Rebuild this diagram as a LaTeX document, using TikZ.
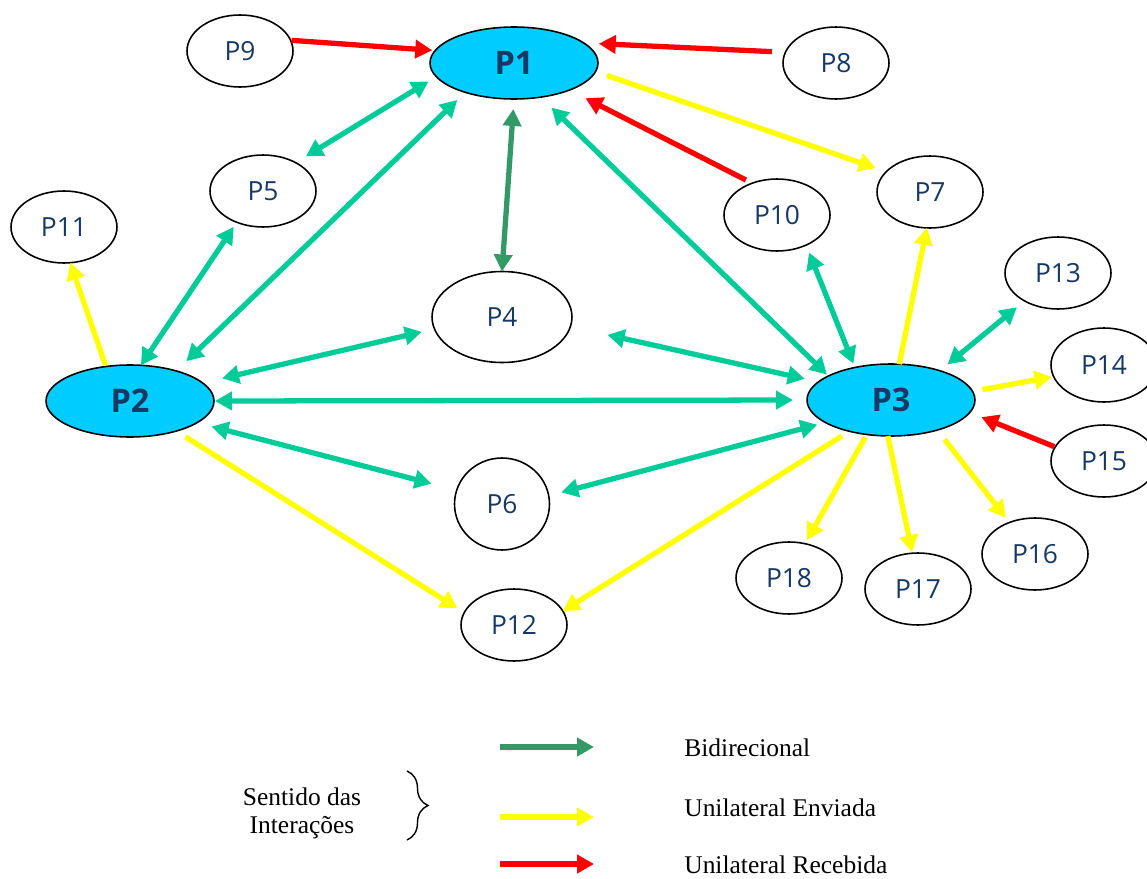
\documentclass[tikz,border=0pt]{standalone}
\usepackage{fontspec}
\usetikzlibrary{shapes.geometric,arrows.meta,decorations.pathreplacing}
\newfontfamily\pfont{Open Sans}
\newfontfamily\lfont{Liberation Serif}
\definecolor{hubcyan}{RGB}{0,204,255}
\definecolor{ptext}{RGB}{22,56,100}
\definecolor{bidigreen}{RGB}{51,153,102}
\definecolor{linkteal}{RGB}{0,204,153}
\definecolor{sentyellow}{RGB}{255,255,0}
\definecolor{recvred}{RGB}{255,0,0}
\begin{document}
\begin{tikzpicture}[x=0.02cm,y=-0.02cm,>={Triangle[length=0.34cm,width=0.36cm]},
    pnode/.style={ellipse,draw,line width=0.9pt,minimum width=2.12cm,minimum height=1.44cm,
      inner sep=0pt,outer sep=0pt,text=ptext,font=\pfont\fontsize{15}{18}\selectfont},
    hub/.style={pnode,fill=hubcyan,minimum width=3.36cm,font=\pfont\bfseries\fontsize{18.5}{22}\selectfont},
    link/.style={line width=3pt},
    both/.style={link,<->,linkteal},
    sent/.style={link,->,sentyellow},
    recv/.style={link,->,recvred},
    legtext/.style={font=\lfont\fontsize{14.5}{16}\selectfont,inner sep=0pt}]
  \useasboundingbox (0,0) rectangle (1147,879);

  \node[hub] (P1) at (514,63) {P1};
  \node[hub] (P2) at (130,401) {P2};
  \node[hub] (P3) at (891,400) {P3};
  \node[pnode,minimum width=2.8cm,minimum height=1.82cm] (P4) at (502,317) {P4};
  \node[pnode] (P5) at (263,191) {P5};
  \node[pnode,minimum width=1.9cm,minimum height=1.84cm] (P6) at (502,504) {P6};
  \node[pnode] (P7) at (930,192) {P7};
  \node[pnode] (P8) at (836,63) {P8};
  \node[pnode] (P9) at (240,51) {P9};
  \node[pnode] (P10) at (777,215) {P10};
  \node[pnode] (P11) at (64,227) {P11};
  \node[pnode] (P12) at (514,625) {P12};
  \node[pnode] (P13) at (1058,273) {P13};
  \node[pnode,minimum height=1.48cm] (P14) at (1104,365) {P14};
  \node[pnode] (P15) at (1104,461) {P15};
  \node[pnode] (P16) at (1035,554) {P16};
  \node[pnode] (P17) at (918,589) {P17};
  \node[pnode] (P18) at (789,578) {P18};

  \draw[recv,shorten <=0.02cm,shorten >=0.06cm] (P9.12) -- (P1.171);
  \draw[recv,shorten <=0.27cm,shorten >=0.3cm] (P8.168) -- (P1.16);
  \draw[sent,shorten <=0.24cm,shorten >=0.22cm] (P1.-6) -- (P7.155);
  \draw[recv,shorten <=0.14cm,shorten >=0.36cm] (P10.128) -- (P1.-26);
  \draw[both,shorten <=0.18cm,shorten >=0.24cm] (P1.190) -- (P5.41);
  \draw[both,shorten <=0.22cm,shorten >=0.28cm] (P1.211) -- (P2.33);
  \draw[link,<->,bidigreen,shorten <=0.2cm] (P1.south) -- (P4.north);
  \draw[both,shorten <=0.3cm,shorten >=0.04cm] (P1.-52) -- (P3.159);
  \draw[both,shorten <=0.16cm,shorten >=0.08cm] (P10.-46) -- (P3.138);
  \draw[sent] (P3.77) -- (P7.-95);
  \draw[both,shorten <=0.2cm,shorten >=0.2cm] (P3.31) -- (P13.220);
  \draw[sent,shorten <=0.2cm,shorten >=0.04cm] (P3.6) -- (P14.193);
  \draw[recv,shorten <=0.02cm,shorten >=0.25cm] (P15.164) -- (P3.-9);
  \draw[sent,shorten <=0.24cm,shorten >=0.12cm] (P3.-33) -- (P16.129);
  \draw[sent,shorten >=0.02cm] (P3.-95) -- (P17.99);
  \draw[sent,shorten <=0.06cm,shorten >=0.08cm] (P3.-125) -- (P18.65);
  \draw[sent,shorten <=0.18cm] (P3.-143) -- (P12.16);
  \draw[both,shorten <=0.17cm,shorten >=0.26cm] (P3.199) -- (P6.10);
  \draw[both,shorten <=0.02cm,shorten >=0.28cm] (P2.east) -- (P3.west);
  \draw[both,shorten <=0.76cm,shorten >=0.28cm] (P4.-8) -- (P3.166);
  \draw[both,shorten <=0.4cm,shorten >=0.26cm] (P2.14) -- (P4.190);
  \draw[both,shorten <=0.3cm,shorten >=0.52cm] (P2.-18) -- (P6.163);
  \draw[sent,shorten <=0.22cm,shorten >=0.16cm] (P2.-33) -- (P12.166);
  \draw[sent,shorten <=0.03cm] (P2.125) -- (P11.-80);
  \draw[both,shorten >=0.11cm] (P2.73) -- (P5.-130);

  \coordinate (g1) at (500,747);
  \coordinate (g2) at (594,747);
  \coordinate (y1) at (500,817);
  \coordinate (y2) at (594,817);
  \coordinate (r1) at (500,864);
  \coordinate (r2) at (594,864);
  \draw[link,->,bidigreen] (g1) -- (g2);
  \draw[link,->,sentyellow] (y1) -- (y2);
  \draw[link,->,recvred] (r1) -- (r2);
  \node[legtext,anchor=west] (lbid) at (684,748) {Bidirecional};
  \node[legtext,anchor=west] (lenv) at (684,808) {Unilateral Enviada};
  \node[legtext,anchor=west] (lrec) at (684,865) {Unilateral Recebida};
  \node[legtext,align=center] (sentido) at (302,813) {Sentido das\\Interações};
  \coordinate (bt) at (407,771);
  \coordinate (bb) at (407,840);
  \draw[decorate,decoration={brace,amplitude=0.42cm},line width=0.8pt] (bt) -- (bb);
\end{tikzpicture}
\end{document}
